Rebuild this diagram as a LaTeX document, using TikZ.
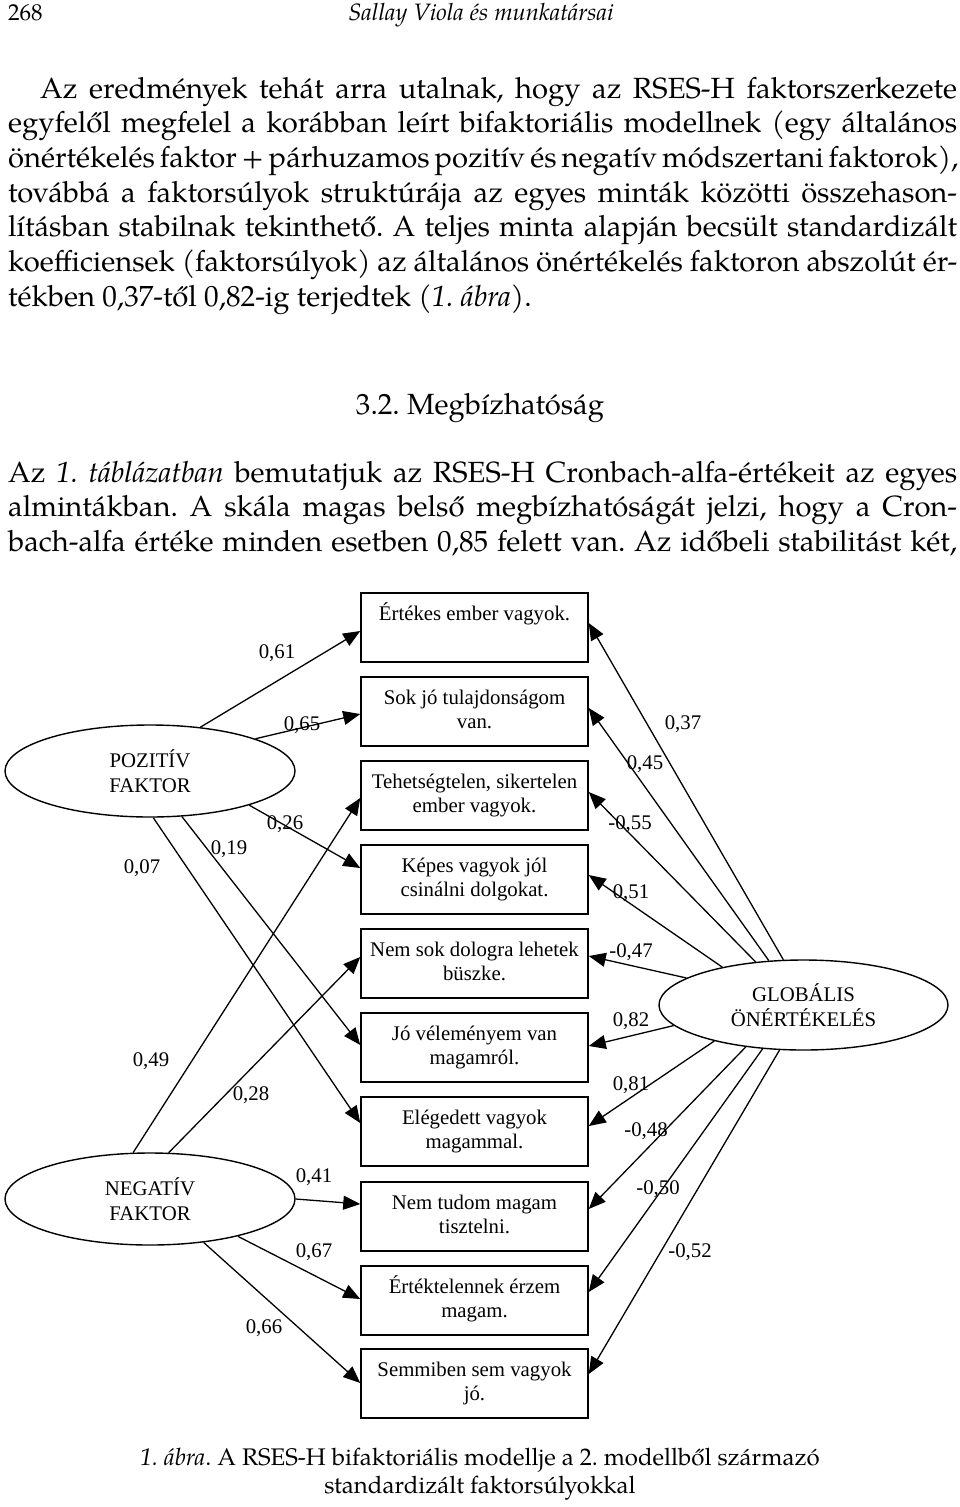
\documentclass[tikz,border=0pt]{standalone}
\usepackage{fontspec}
\setmainfont{TeX Gyre Pagella}
\newfontfamily\diagfont{Liberation Serif}
\usetikzlibrary{shapes.geometric,arrows.meta,calc}
\frenchspacing
\begin{document}
\frenchspacing
\begin{tikzpicture}[x=1pt,y=-1pt,
  box/.style={draw, line width=1.5pt, rectangle, minimum width=227pt, minimum height=69pt, inner sep=0pt, align=center, font=\diagfont\fontsize{20.8}{24}\selectfont},
  fac/.style={draw, line width=1.4pt, ellipse, minimum width=290pt, minimum height=92pt, inner sep=0pt, align=center, font=\diagfont\fontsize{20.8}{25}\selectfont},
  arr/.style={line width=1.3pt, -{Triangle[length=17pt,width=14pt]}},
  lab/.style={anchor=base, inner sep=0pt, font=\diagfont\fontsize{20.8}{24}\selectfont},
  bodyline/.style={anchor=base west, inner sep=0pt, font=\fontsize{29.2}{34.7}\selectfont},
  bodyc/.style={anchor=base, inner sep=0pt, font=\fontsize{29.2}{34.7}\selectfont},
  capline/.style={anchor=base, inner sep=0pt, font=\fontsize{24}{28}\selectfont},
]
\useasboundingbox[fill=white] (0,0) rectangle (960,1507);

% header
\node[anchor=base west, inner sep=0pt, font=\fontsize{23}{26}\selectfont] (pagenum) at (8,20) {268};
\node[anchor=base, inner sep=0pt, font=\fontsize{23.7}{26}\selectfont\itshape] (runhead) at (481,20) {Sallay Viola és munkatársai};

% paragraph 1
\node[bodyline] (p1a) at (40,98) {\makebox[917pt][s]{Az eredmények tehát arra utalnak, hogy az RSES-H faktorszerkezete}};
\node[bodyline] (p1b) at (8,132.7) {\makebox[949pt][s]{egyfelől megfelel a korábban leírt bifaktoriális modellnek (egy általános}};
\node[bodyline] (p1c) at (8,167.4) {\makebox[949pt][s]{önértékelés faktor + párhuzamos pozitív és negatív módszertani faktorok),}};
\node[bodyline] (p1d) at (8,202.1) {\makebox[949pt][s]{továbbá a faktorsúlyok struktúrája az egyes minták közötti összehason-}};
\node[bodyline] (p1e) at (8,236.8) {\makebox[949pt][s]{lításban stabilnak tekinthető. A teljes minta alapján becsült standardizált}};
\node[bodyline] (p1f) at (8,271.5) {\makebox[949pt][s]{koefficiensek (faktorsúlyok) az általános önértékelés faktoron abszolút ér-}};
\node[bodyline] (p1g) at (8,306.2) {tékben 0,37-től 0,82-ig terjedtek \textit{(1. ábra)}.};

% heading
\node[bodyc] (head) at (480,414.5) {3.2. Megbízhatóság};

% paragraph 2
\node[bodyline] (p2a) at (8,482) {\makebox[949pt][s]{Az \textit{1. táblázatban} bemutatjuk az RSES-H Cronbach-alfa-értékeit az egyes}};
\node[bodyline] (p2b) at (8,516.5) {\makebox[949pt][s]{almintákban. A skála magas belső megbízhatóságát jelzi, hogy a Cron-}};
\node[bodyline] (p2c) at (8,551) {\makebox[949pt][s]{bach-alfa értéke minden esetben 0,85 felett van. Az időbeli stabilitást két,}};

% boxes
\node[box] (b1) at (474.5,627.5) {\strut Értékes ember vagyok.\\\strut};
\node[box] (b2) at (474.5,711.5) {\strut Sok jó tulajdonságom\\\strut van.};
\node[box] (b3) at (474.5,795.5) {\strut Tehetségtelen, sikertelen\\\strut ember vagyok.};
\node[box] (b4) at (474.5,879.5) {\strut Képes vagyok jól\\\strut csinálni dolgokat.};
\node[box] (b5) at (474.5,963.5) {\strut Nem sok dologra lehetek\\\strut büszke.};
\node[box] (b6) at (474.5,1047.5) {\strut Jó véleményem van\\\strut magamról.};
\node[box] (b7) at (474.5,1131.5) {\strut Elégedett vagyok\\\strut magammal.};
\node[box] (b8) at (474.5,1216.5) {\strut Nem tudom magam\\\strut tisztelni.};
\node[box] (b9) at (474.5,1300.5) {\strut Értéktelennek érzem\\\strut magam.};
\node[box] (b10) at (474.5,1383.5) {\strut Semmiben sem vagyok\\\strut jó.};

% factors
\node[fac] (pos) at (150,771) {POZITÍV\\FAKTOR};
\node[fac] (neg) at (150,1199) {NEGATÍV\\FAKTOR};
\node[fac, minimum width=289pt, minimum height=90pt] (glob) at (803.5,1005) {GLOBÁLIS\\ÖNÉRTÉKELÉS};

% positive factor loadings
\draw[arr] (pos.41.3) -- ([yshift=-3.5pt]b1.west);
\draw[arr] (pos.17.1) -- ([yshift=-2.5pt]b2.west);
\draw[arr] (pos.-19.8) -- ([yshift=11.5pt]b4.west);
\draw[arr] (pos.-55.2) -- ([yshift=2.5pt]b6.west);
\draw[arr] (pos.-86) -- ([yshift=8.5pt]b7.west);

% negative factor loadings
\draw[arr] (neg.110.3) -- ([yshift=-2.5pt]b3.west);
\draw[arr] (neg.68.6) -- ([yshift=6.5pt]b5.west);
\draw[arr] (neg.0) -- ([yshift=12.5pt]b8.west);
\draw[arr] (neg.-23.6) -- ([yshift=1.5pt]b9.west);
\draw[arr] (neg.-39.6) -- ([yshift=0.5pt]b10.west);

% global factor loadings
\draw[arr] (glob.114) -- ([yshift=4.5pt]b1.east);
\draw[arr] (glob.128.3) -- ([yshift=3.5pt]b2.east);
\draw[arr] (glob.138.9) -- ([yshift=3.5pt]b3.east);
\draw[arr] (glob.155) -- ([yshift=4.5pt]b4.east);
\draw[arr] (glob.167.8) -- ([yshift=7.5pt]b5.east);
\draw[arr] (glob.189.6) -- ([yshift=1.5pt]b6.east);
\draw[arr] (glob.202.2) -- ([yshift=5.5pt]b7.east);
\draw[arr] (glob.216.6) -- ([yshift=7.5pt]b8.east);
\draw[arr] (glob.227.4) -- ([yshift=8.5pt]b9.east);
\draw[arr] (glob.242) -- ([yshift=9.5pt]b10.east);

% labels
\node[lab] (l61) at (277,658) {0,61};
\node[lab] (l65) at (302,730) {0,65};
\node[lab] (l26) at (285,829) {0,26};
\node[lab] (l19) at (229,854) {0,19};
\node[lab] (l07) at (142,873) {0,07};
\node[lab] (l37) at (683,729) {0,37};
\node[lab] (l45) at (645,769) {0,45};
\node[lab] (l55) at (630,829) {-0,55};
\node[lab] (l51) at (631,898) {0,51};
\node[lab] (l49) at (151,1066) {0,49};
\node[lab] (l28) at (251,1100) {0,28};
\node[lab] (l41) at (314,1182) {0,41};
\node[lab] (l47) at (631,957) {-0,47};
\node[lab] (l82) at (631,1026) {0,82};
\node[lab] (l81) at (631,1090) {0,81};
\node[lab] (l48) at (646,1136) {-0,48};
\node[lab] (l50) at (658,1194) {-0,50};
\node[lab] (l67) at (314,1257) {0,67};
\node[lab] (l66) at (264,1333) {0,66};
\node[lab] (l52) at (690,1257) {-0,52};

% caption
\node[capline] (cap1) at (480,1465) {\textit{1. ábra}. A RSES-H bifaktoriális modellje a 2. modellből származó};
\node[capline] (cap2) at (480,1493) {standardizált faktorsúlyokkal};
\end{tikzpicture}
\end{document}
